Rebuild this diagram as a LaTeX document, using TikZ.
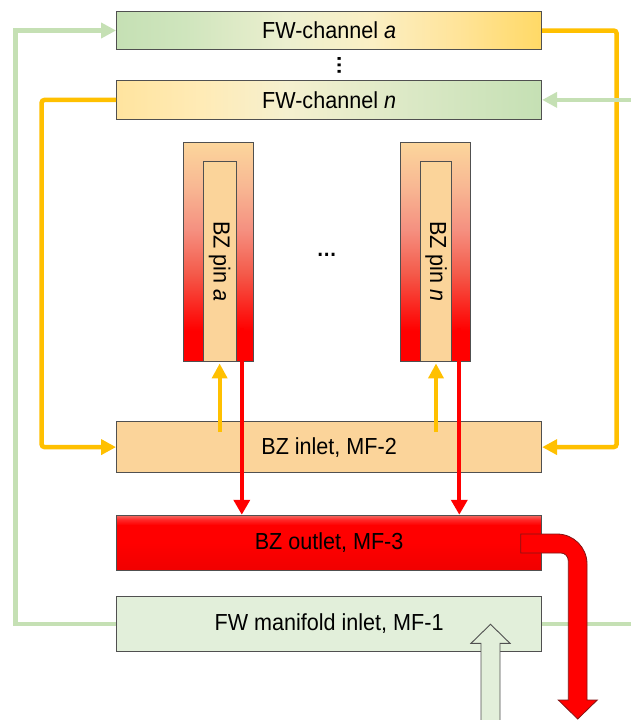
\documentclass[tikz,border=0pt]{standalone}
\usepackage{fontspec}
\setmainfont{Liberation Sans}[FakeStretch=0.93]
\usetikzlibrary{arrows.meta,calc}
\definecolor{fwgreen}{HTML}{C5E0B4}
\definecolor{fwyel}{HTML}{FFD966}
\definecolor{gold}{HTML}{FFC000}
\definecolor{peach}{HTML}{FBD49A}
\definecolor{mfgreen}{HTML}{E2EFDA}
\definecolor{edge}{HTML}{505050}
\pgfdeclarehorizontalshading{fwashade}{100bp}{color(0bp)=(fwgreen); color(25bp)=(fwgreen); color(33bp)=(rgb,255:red,207;green,229;blue,189); color(45bp)=(rgb,255:red,236;green,239;blue,207); color(55bp)=(rgb,255:red,251;green,239;blue,196); color(65bp)=(rgb,255:red,255;green,228;blue,154); color(75bp)=(fwyel); color(100bp)=(fwyel)}
\pgfdeclarehorizontalshading{fwnshade}{100bp}{color(0bp)=(rgb,255:red,255;green,228;blue,159); color(25bp)=(rgb,255:red,255;green,228;blue,159); color(35bp)=(rgb,255:red,255;green,235;blue,182); color(45bp)=(rgb,255:red,245;green,240;blue,207); color(60bp)=(rgb,255:red,218;green,232;blue,197); color(75bp)=(fwgreen); color(100bp)=(fwgreen)}
\pgfdeclareverticalshading{pinshade}{100bp}{color(0bp)=(red); color(25bp)=(red); color(32bp)=(red); color(45bp)=(rgb,255:red,244;green,90;blue,74); color(55bp)=(rgb,255:red,245;green,144;blue,128); color(65bp)=(rgb,255:red,248;green,184;blue,147); color(75bp)=(rgb,255:red,252;green,214;blue,156); color(100bp)=(rgb,255:red,252;green,214;blue,156)}
\pgfdeclareverticalshading{outshade}{100bp}{color(0bp)=(rgb,255:red,240;green,0;blue,0); color(25bp)=(rgb,255:red,240;green,0;blue,0); color(50bp)=(red); color(66bp)=(red); color(71bp)=(rgb,255:red,255;green,40;blue,40); color(75bp)=(rgb,255:red,240;green,110;blue,100); color(100bp)=(rgb,255:red,240;green,110;blue,100)}
\tikzset{
  txt/.style={font=\fontsize{23.2}{27}\selectfont, text=black},
  box/.style={draw=edge, line width=0.9pt, inner sep=0pt, txt},
  yline/.style={draw=gold, line width=4.5pt, rounded corners=3pt},
  gline/.style={draw=fwgreen, line width=4.5pt},
  rline/.style={draw=red, line width=4pt},
  ytip/.style={-{Triangle[length=15pt,width=15pt]}},
  rtip/.style={-{Triangle[length=15pt,width=16pt]}},
  dotsnode/.style={font=\fontsize{21.8}{26}\selectfont\bfseries, inner sep=0pt},
}
\begin{document}
\begin{tikzpicture}[x=1pt,y=-1pt]
\useasboundingbox[fill=white] (0,0) rectangle (630,720);

% boxes
\node[box, shading=fwashade, minimum width=425.2pt, minimum height=37.6pt] (fwa) at (329.1,30.5) {FW-channel \textit{a}};
\node[box, shading=fwnshade, minimum width=425.2pt, minimum height=38.3pt] (fwn) at (329.1,99.9) {FW-channel \textit{n}};
\node[dotsnode, rotate=90] (vdots) at (339.3,65.8) {…};

\node[box, shading=pinshade, minimum width=70pt, minimum height=218.7pt] (pinao) at (218.3,251.65) {};
\node[box, fill=peach, minimum width=32.7pt, minimum height=199.3pt] (pina) at (219.65,261.35) {};
\node[txt, rotate=-90] (pinatxt) at (pina.center) {BZ pin \textit{a}};

\node[box, shading=pinshade, minimum width=69.5pt, minimum height=218.7pt] (pinno) at (435.4,251.65) {};
\node[box, fill=peach, minimum width=31.5pt, minimum height=199.3pt] (pinn) at (436.0,261.35) {};
\node[txt, rotate=-90] (pinntxt) at (pinn.center) {BZ pin \textit{n}};

\node[dotsnode] (hdots) at (326.7,255) {…};

\node[box, fill=peach, minimum width=425.2pt, minimum height=50.8pt] (mf2) at (329.1,447.1) {BZ inlet, MF-2};
\node[box, shading=outshade, minimum width=425.2pt, minimum height=54.8pt] (mf3) at (329.1,542.6) {BZ outlet, MF-3};
\node[box, fill=mfgreen, minimum width=425.2pt, minimum height=54.3pt] (mf1) at (329.1,623.85) {FW manifold inlet, MF-1};

% yellow loops
\draw[yline, ytip] (fwa.east) -- ++(74.5,0) |- (mf2.east);
\draw[yline, ytip] (fwn.west) -- ++(-74.5,0) |- (mf2.west);

% green loops
\draw[gline, ytip] (mf1.west) -- ++(-100.8,0) |- (fwa.west);
\coordinate (gin) at (634,99.9);
\draw[gline, ytip] (gin) -- (fwn.east);
\coordinate (gout) at (634,623.85);
\draw[gline] (mf1.east) -- (gout);

% yellow feeds to pins
\coordinate (ya) at (219.65,432);
\coordinate (yn) at (436.0,432);
\draw[draw=gold, line width=4pt, ytip] (ya) -- ($(pina.south)+(0,2)$);
\draw[draw=gold, line width=4pt, ytip] (yn) -- ($(pinn.south)+(0,2)$);

% red returns
\coordinate (ra) at (241.8,328);
\coordinate (rn) at (459.3,328);
\draw[rline, rtip] (ra) -- (ra |- mf3.north);
\draw[rline, rtip] (rn) -- (rn |- mf3.north);

% big red outlet arrow
\draw[fill=red, draw={rgb,255:red,130;green,20;blue,20}, line width=0.8pt, line join=miter]
  (520.7,534) -- (557,534) .. controls (573.6,534) and (587,547.4) .. (587,564)
  -- (587,700) -- (597.3,700) -- (577.7,719) -- (558.3,700) -- (568.3,700)
  -- (568.3,561) .. controls (568.3,556.6) and (565.2,553) .. (561,553)
  -- (520.7,553) -- cycle;

% hollow green inlet arrow
\draw[fill=mfgreen, draw=edge, line width=0.9pt, line join=miter]
  (481,724) -- (481,643.3) -- (471,643.3) -- (490.5,624.3) -- (510,643.3) -- (500,643.3) -- (500,724) -- cycle;
\end{tikzpicture}
\end{document}
